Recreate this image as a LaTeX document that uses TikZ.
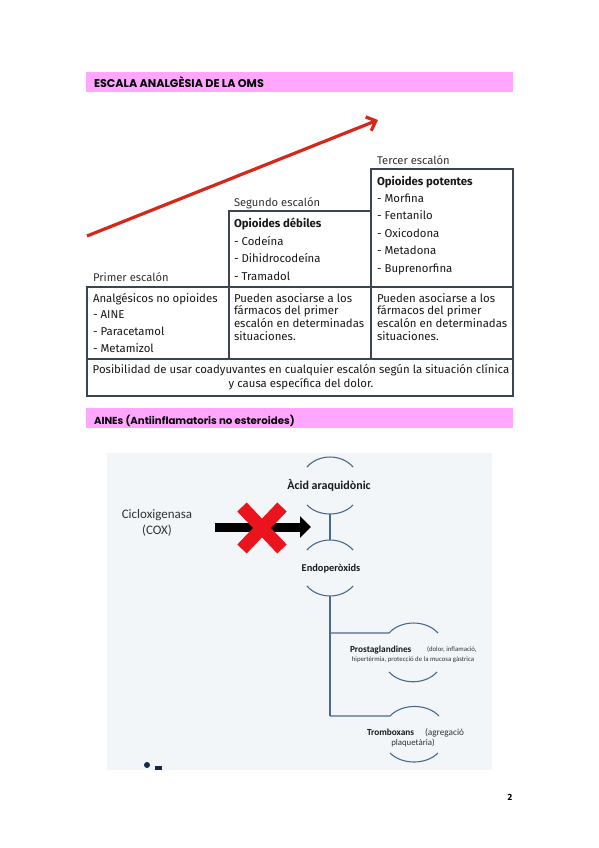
\documentclass[tikz,border=0pt]{standalone}
\usepackage{fontspec}
\setmainfont{Fira Sans}
\newfontfamily\hfont{Poppins}
\newfontfamily\cfont{Carlito}
\usetikzlibrary{arrows.meta,calc}
\definecolor{pinkbar}{RGB}{255,166,255}
\definecolor{redarr}{RGB}{212,40,26}
\definecolor{tline}{RGB}{60,68,78}
\definecolor{txt}{RGB}{25,25,25}
\definecolor{imgbg}{RGB}{243,246,249}
\definecolor{arcc}{RGB}{74,106,140}
\definecolor{xred}{RGB}{236,20,28}
\definecolor{navy}{RGB}{20,40,80}
\definecolor{ctxt}{RGB}{50,50,50}
\begin{document}
\begin{tikzpicture}[x=1pt,y=-1pt,
  every node/.style={inner sep=0pt,outer sep=0pt},
  bar/.style={fill=pinkbar,anchor=north west,minimum width=427pt,minimum height=20pt},
  head/.style={anchor=base west,font=\hfont\bfseries\fontsize{10.6}{12}\selectfont,text=black},
  tbox/.style={draw=tline,line width=1.3pt,anchor=north west},
  tt/.style={anchor=base west,font=\fontsize{11.4}{12.7}\selectfont,text=txt},
  tb/.style={tt,font=\bfseries\fontsize{11.4}{12.7}\selectfont},
  lab/.style={anchor=base west,font=\fontsize{11.2}{12.7}\selectfont,text=ctxt},
  arcline/.style={draw=arcc,line width=1.1pt},
  cl/.style={font=\cfont\fontsize{13}{15}\selectfont,text=ctxt},
  cb/.style={font=\cfont\bfseries\fontsize{10}{12}\selectfont,text=txt},
  cs/.style={font=\cfont\fontsize{6.8}{8}\selectfont,text=ctxt},
]
\useasboundingbox (0,0) rectangle (599,848);
\fill[white] (0,0) rectangle (599,848);

% heading 1
\node[bar] (h1) at (86,72) {};
\node[head,font=\hfont\bfseries\fontsize{11.2}{12}\selectfont] (h1t) at (94,88) {ESCALA ANALGÈSIA DE LA OMS};

% red arrow
\coordinate (rs) at (87,236);
\coordinate (re) at (378,120);
\draw[redarr,line width=3.2pt,-{Straight Barb[length=8pt,width=15pt]}] (rs) -- (re);

% table
\node[tbox,minimum width=142pt,minimum height=118pt] (t3) at (371,169) {};
\node[tbox,minimum width=142pt,minimum height=76pt] (t2) at (229,211) {};
\node[tbox,minimum width=142pt,minimum height=72pt] (c1) at (87,287) {};
\node[tbox,minimum width=142pt,minimum height=72pt] (c2) at (229,287) {};
\node[tbox,minimum width=142pt,minimum height=72pt] (c3) at (371,287) {};
\node[tbox,minimum width=426pt,minimum height=37pt] (r4) at (87,359) {};

\node[lab] (l3) at (377,164) {Tercer escalón};
\node[lab] (l2) at (234,206) {Segundo escalón};
\node[lab] (l1) at (93,281) {Primer escalón};

\node[tb] (p0) at (377,185) {Opioides potentes};
\foreach \t [count=\i] in {Morfina,Fentanilo,Oxicodona,Metadona,Buprenorfina}
  \node[tt] (p\i) at (377,184.5+17.5*\i) {- \t};

\node[tb] (d0) at (234,227) {Opioides débiles};
\foreach \t [count=\i] in {Codeína,Dihidrocodeína,Tramadol}
  \node[tt] (d\i) at (234,227.5+17.5*\i) {- \t};

\node[tt] (a0) at (93,302) {Analgésicos no opioides};
\foreach \t [count=\i] in {AINE,Paracetamol,Metamizol}
  \node[tt] (a\i) at (93,301+17.2*\i) {- \t};

\foreach \c/\x in {b/234,e/377}{
  \node[tt] (\c1) at (\x,302) {Pueden asociarse a los};
  \node[tt] (\c2) at (\x,314.7) {fármacos del primer};
  \node[tt] (\c3) at (\x,327.4) {escalón en determinadas};
  \node[tt] (\c4) at (\x,340.1) {situaciones.};
}
\node[tt,anchor=base] (f1) at (301,373.5) {Posibilidad de usar coadyuvantes en cualquier escalón según la situación clínica};
\node[tt,anchor=base] (f2) at (301,387.5) {y causa específica del dolor.};

% heading 2
\node[bar] (h2) at (86,408) {};
\node[head,font=\hfont\bfseries\fontsize{10.2}{12}\selectfont] (h2t) at (94,424.5) {AINEs (Antiinflamatoris no esteroides)};

% image
\node[fill=imgbg,anchor=north west,minimum width=385pt,minimum height=317pt] (img) at (107,453) {};

\node[cl] (cox1) at (157,515) {Cicloxigenasa};
\node[cl] (cox2) at (157,531) {(COX)};

\coordinate (bs) at (215,527);
\coordinate (be) at (311,527);
\draw[black,line width=9pt,-{Triangle[length=11pt,width=21pt]}] (bs) -- (be);

\coordinate (xc) at (262,528);
\draw[xred,line width=13pt] ($(xc)+(-20,-21)$) -- ($(xc)+(20,21)$);
\draw[xred,line width=13pt] ($(xc)+(-20,21)$) -- ($(xc)+(20,-21)$);

% arcs: dome (ends below, peak above) and cup
\coordinate (A1l) at (307,467); \coordinate (A1r) at (353,467);
\draw[arcline] (A1l) .. controls (318.5,453.7) and (341.5,453.7) .. (A1r);
\node[cb,font=\cfont\bfseries\fontsize{12}{13}\selectfont] (acid) at (329,485) {Àcid araquidònic};
\coordinate (A2l) at (307,505); \coordinate (A2r) at (353,505);
\draw[arcline] (A2l) .. controls (318.5,517) and (341.5,517) .. (A2r);
\coordinate (v1a) at (330,514); \coordinate (v1b) at (330,540);
\draw[arcline] (v1a) -- (v1b);
\coordinate (A3l) at (307,550); \coordinate (A3r) at (353,550);
\draw[arcline] (A3l) .. controls (318.5,536.7) and (341.5,536.7) .. (A3r);
\node[cb,font=\cfont\bfseries\fontsize{10.4}{12}\selectfont] (endo) at (331,569) {Endoperòxids};
\coordinate (A4l) at (307,586); \coordinate (A4r) at (353,586);
\draw[arcline] (A4l) .. controls (318.5,599.3) and (341.5,599.3) .. (A4r);
\coordinate (v2a) at (330,596); \coordinate (v2b) at (330,716);
\draw[arcline] (v2a) -- (v2b);

\coordinate (br1) at (330,633); \coordinate (A5l) at (389,633); \coordinate (A5r) at (438,633);
\draw[arcline] (br1) -- (A5l) .. controls (401,619.7) and (426,619.7) .. (A5r);
\node[cb,font=\cfont\bfseries\fontsize{9.3}{10}\selectfont,anchor=base west] (pros) at (350,652) {Prostaglandines};
\node[cs,anchor=base west] (pros2) at (427,651.5) {(dolor, inflamació,};
\node[cs,anchor=base] (pros3) at (413,661) {hipertèrmia, protecció de la mucosa gàstrica};
\coordinate (A6l) at (389,672); \coordinate (A6r) at (437,672);
\draw[arcline] (A6l) .. controls (401,685) and (425,685) .. (A6r);

\coordinate (br2) at (330,716); \coordinate (A7l) at (390,716); \coordinate (A7r) at (439,716);
\draw[arcline] (br2) -- (A7l) .. controls (402,703.3) and (427,703.3) .. (A7r);
\node[cb,font=\cfont\bfseries\fontsize{9.3}{10}\selectfont,anchor=base west] (trom) at (367,735) {Tromboxans};
\node[cs,font=\cfont\fontsize{9.3}{10}\selectfont,anchor=base west] (trom2) at (425,735) {(agregació};
\node[cs,font=\cfont\fontsize{8.8}{10}\selectfont,anchor=base] (trom3) at (413,745) {plaquetària)};
\coordinate (A8l) at (390,753); \coordinate (A8r) at (438,753);
\draw[arcline] (A8l) .. controls (402,765) and (426,765) .. (A8r);

% cropped bullet at bottom
\fill[navy] (147,765) circle (3pt);
\fill[navy] (155,766) rectangle (162,770);

% page number
\node[anchor=base,font=\bfseries\fontsize{9}{10}\selectfont] (pg) at (510,800) {2};
\end{tikzpicture}
\end{document}
